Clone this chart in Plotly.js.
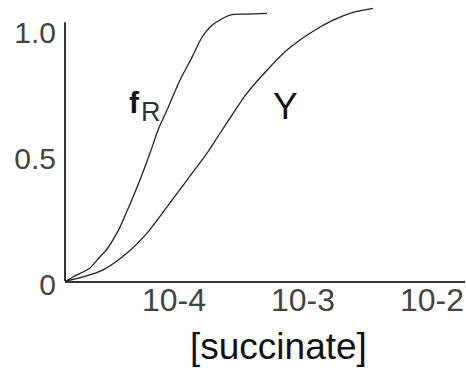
<!DOCTYPE html>
<html>
<head>
<meta charset="utf-8">
<script src="https://cdn.plot.ly/plotly-3.0.1.min.js"></script>
<style>
  html, body { margin: 0; padding: 0; background: #ffffff; }
  #chart { width: 466px; height: 372px; }
</style>
</head>
<body>
<div id="chart"></div>
<script>
// [succinate] (M) and fraction values
const fR_x = [1.455e-5, 1.648e-5, 2.234e-5, 2.529e-5, 3.027e-5, 3.365e-5, 3.811e-5, 4.560e-5, 5.445e-5, 6.516e-5, 7.516e-5, 8.831e-5, 1.114e-4, 1.380e-4, 1.648e-4, 1.972e-4, 2.716e-4, 3.681e-4, 5.260e-4];
const fR_y = [0, 0.016, 0.052, 0.083, 0.127, 0.163, 0.214, 0.305, 0.401, 0.508, 0.599, 0.679, 0.798, 0.889, 0.968, 1.016, 1.056, 1.060, 1.063];

const Y_x = [1.455e-5, 1.972e-5, 2.818e-5, 4.325e-5, 6.180e-5, 8.831e-5, 1.262e-4, 1.803e-4, 2.080e-4, 2.716e-4, 3.681e-4, 5.260e-4, 7.516e-4, 1.132e-3, 1.710e-3, 2.443e-3, 3.491e-3];
const Y_y = [0, 0.016, 0.044, 0.111, 0.190, 0.294, 0.401, 0.508, 0.556, 0.647, 0.746, 0.837, 0.917, 0.984, 1.036, 1.067, 1.083];

const xTickVals = [1e-4, 1e-3, 1e-2];
const xTickText = ["10-4", "10-3", "10-2"];
const yTickVals = [0, 0.5, 1.0];
const yTickText = ["0", "0.5", "1.0"];

const FONT = '"Liberation Sans", Arial, sans-serif';
const lineStyle = { color: '#222222', width: 1.3, shape: 'spline', smoothing: 0.8 };

const traces = [
  { x: fR_x, y: fR_y, type: 'scatter', mode: 'lines', line: lineStyle, hoverinfo: 'skip', showlegend: false },
  { x: Y_x, y: Y_y, type: 'scatter', mode: 'lines', line: lineStyle, hoverinfo: 'skip', showlegend: false }
];

const layout = {
  width: 466,
  height: 372,
  margin: { l: 65, r: 1, t: 4, b: 91 },
  paper_bgcolor: '#ffffff',
  plot_bgcolor: '#ffffff',
  showlegend: false,
  font: { family: FONT, color: '#333333' },
  xaxis: {
    type: 'log',
    range: [-4.845, -1.744],
    tickvals: xTickVals,
    ticktext: xTickText,
    ticks: '',
    showgrid: false,
    zeroline: false,
    showline: true,
    linecolor: '#333333',
    linewidth: 2,
    tickfont: { size: 32, color: '#444444', family: FONT },
    ticklabelstandoff: -10
  },
  yaxis: {
    range: [0, 1.1],
    tickvals: yTickVals,
    ticktext: yTickText,
    ticks: '',
    showgrid: false,
    zeroline: false,
    showline: false,
    tickfont: { size: 30, color: '#444444', family: FONT },
    ticklabelstandoff: 8,
    ticklabelshift: 3
  },
  shapes: [
    { type: 'line', xref: 'paper', yref: 'y', x0: 0, x1: 0, y0: 0, y1: 1.028,
      line: { color: '#333333', width: 2 } }
  ],
  annotations: [
    { text: '<b>f</b>', xref: 'paper', yref: 'paper', x: (134 - 65) / 400, y: (281 - 103) / 277,
      xanchor: 'center', yanchor: 'middle', showarrow: false,
      font: { size: 30, color: '#111111', family: FONT } },
    { text: 'R', xref: 'paper', yref: 'paper', x: (151 - 65) / 400, y: (281 - 112) / 277,
      xanchor: 'center', yanchor: 'middle', showarrow: false,
      font: { size: 27, color: '#333333', family: FONT } },
    { text: 'Y', xref: 'paper', yref: 'paper', x: (285 - 65) / 400, y: (281 - 106) / 277,
      xanchor: 'center', yanchor: 'middle', showarrow: false,
      font: { size: 37, color: '#111111', family: FONT } },
    { text: '[succinate]', xref: 'paper', yref: 'paper', x: (278 - 65) / 400, y: -(346 - 281) / 277,
      xanchor: 'center', yanchor: 'middle', showarrow: false,
      font: { size: 37, color: '#111111', family: FONT } }
  ]
};

Plotly.newPlot('chart', traces, layout, { displayModeBar: false, staticPlot: true });
</script>
</body>
</html>
